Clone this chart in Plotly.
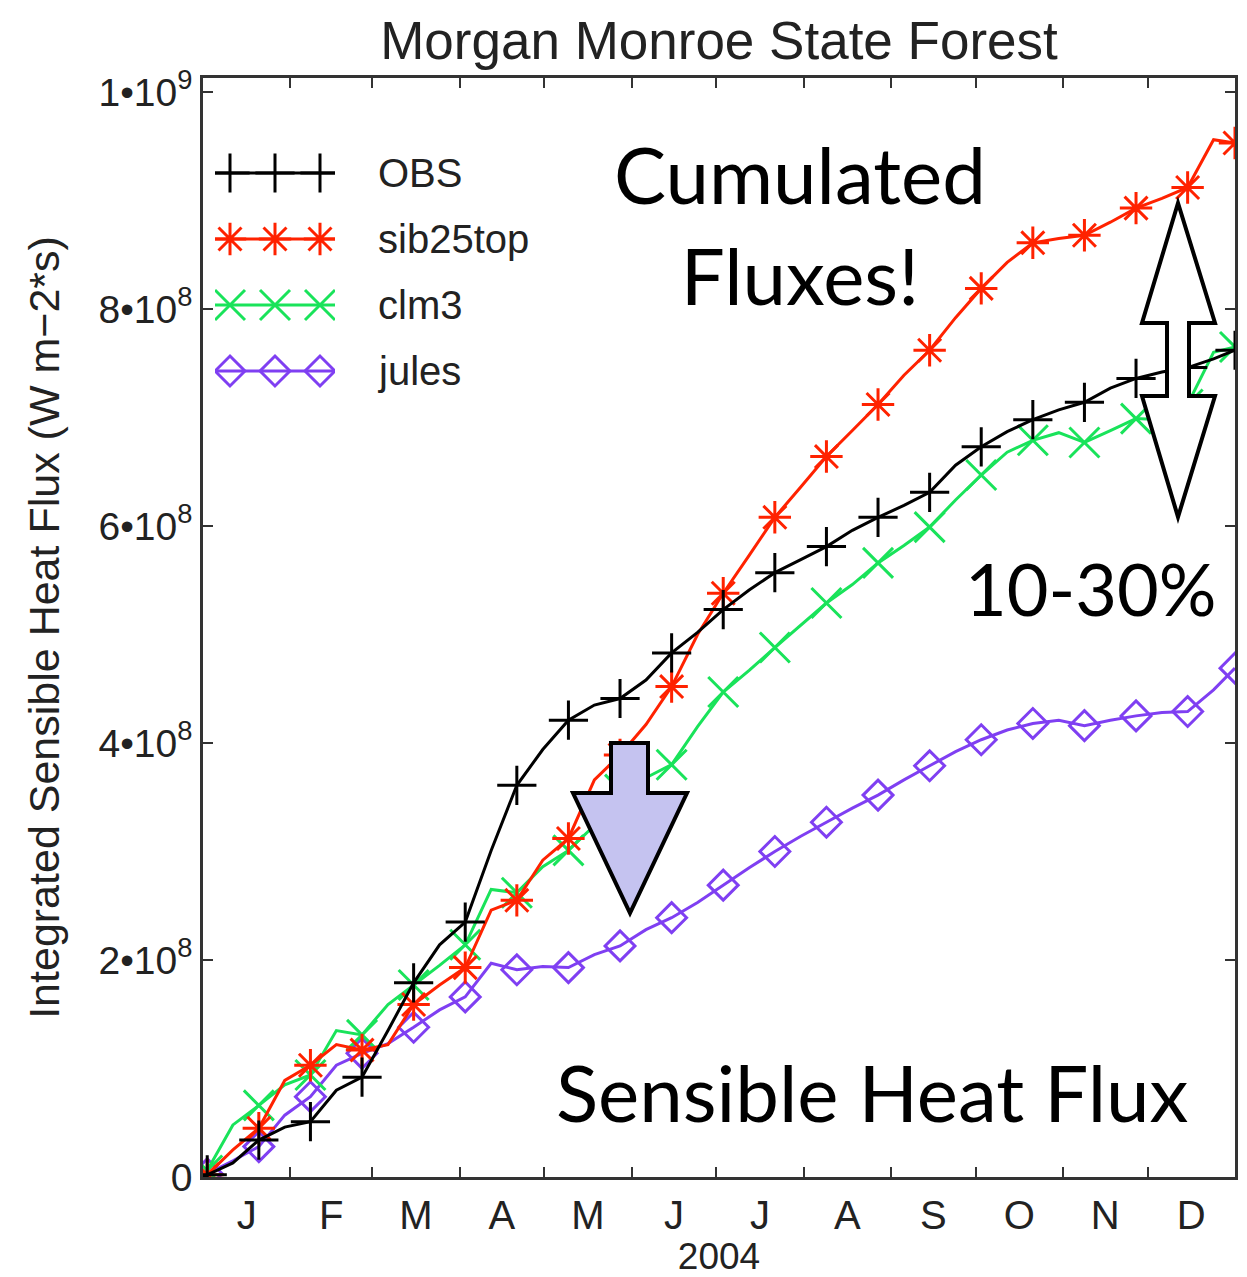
import plotly.graph_objects as go

# ---------------- data (values in units of 1e8 W m-2 s) ----------------
days = [0.0, 1.5, 10.6, 19.8, 29.0, 38.1, 47.3, 56.4, 65.6, 74.7, 83.9, 93.0, 102.2,
        111.3, 120.5, 129.6, 138.8, 147.9, 157.1, 166.2, 175.4, 184.5, 193.7, 202.8,
        212.0, 221.1, 230.3, 239.4, 248.6, 257.7, 266.9, 276.0, 285.2, 294.3, 303.5,
        312.6, 321.8, 330.9, 340.1, 349.2, 358.4, 366.0]

obs = [0.0, 0.02, 0.13, 0.34, 0.46, 0.51, 0.80, 0.92, 1.35, 1.79, 2.14, 2.35, 3.01,
       3.61, 3.94, 4.21, 4.35, 4.41, 4.58, 4.83, 5.02, 5.23, 5.41, 5.57, 5.69, 5.81,
       5.96, 6.08, 6.19, 6.31, 6.56, 6.73, 6.87, 6.98, 7.07, 7.14, 7.27, 7.36, 7.42,
       7.46, 7.54, 7.62]

sib25top = [0.0, 0.02, 0.25, 0.45, 0.89, 1.03, 1.22, 1.17, 1.22, 1.59, 1.77, 1.93, 2.46,
            2.55, 2.92, 3.12, 3.66, 3.89, 4.17, 4.52, 5.00, 5.38, 5.73, 6.08, 6.36, 6.64,
            6.88, 7.12, 7.39, 7.62, 7.92, 8.19, 8.43, 8.61, 8.65, 8.68, 8.80, 8.93, 9.02,
            9.12, 9.56, 9.53]

clm3 = [0.0, 0.06, 0.48, 0.66, 0.85, 0.94, 1.35, 1.31, 1.59, 1.77, 1.95, 2.14, 2.65,
        2.62, 2.86, 3.01, 3.24, 3.57, 3.68, 3.80, 4.15, 4.47, 4.67, 4.88, 5.09, 5.29,
        5.46, 5.66, 5.82, 5.99, 6.24, 6.47, 6.68, 6.79, 6.86, 6.77, 6.88, 6.99, 6.98,
        7.12, 7.60, 7.65]

jules = [0.0, 0.03, 0.15, 0.28, 0.57, 0.74, 1.03, 1.14, 1.23, 1.38, 1.54, 1.66, 1.97,
         1.91, 1.94, 1.93, 2.05, 2.13, 2.28, 2.39, 2.53, 2.69, 2.85, 3.00, 3.14, 3.27,
         3.40, 3.52, 3.66, 3.79, 3.92, 4.03, 4.12, 4.18, 4.21, 4.16, 4.21, 4.25, 4.28,
         4.29, 4.49, 4.69]

series_names = ["OBS", "sib25top", "clm3", "jules"]
month_starts = [0, 31, 60, 91, 121, 152, 182, 213, 244, 274, 305, 335, 366]
month_mids = [15.5, 45.5, 75.5, 106, 136.5, 167, 197.5, 228.5, 259, 289.5, 320, 350.5]
month_labels = ["J", "F", "M", "A", "M", "J", "J", "A", "S", "O", "N", "D"]
y_tickvals = [0, 2e8, 4e8, 6e8, 8e8, 1e9]
y_ticktext = ["0", "2•10<sup>8</sup>", "4•10<sup>8</sup>", "6•10<sup>8</sup>",
              "8•10<sup>8</sup>", "1•10<sup>9</sup>"]
SCALE = 1e8

# ---------------- style ----------------
W, H = 1247, 1277
L, R, T, B = 203, 1235, 78, 1177
FONT = "Liberation Sans, Arial, Helvetica, sans-serif"
BIGFONT = "Lato, Open Sans, sans-serif"
TXT = "#222222"
styles = {
    "OBS": dict(color="#000000", symbol="cross-thin-open", size=28),
    "sib25top": dict(color="#ff2200", symbol="asterisk-open", size=27),
    "clm3": dict(color="#19e35a", symbol="x-thin-open", size=30),
    "jules": dict(color="#7f3ff2", symbol="diamond-open", size=23),
}
data = {"OBS": obs, "sib25top": sib25top, "clm3": clm3, "jules": jules}


def px(x):
    return (x - L) / (R - L)


def py(y):
    return (B - y) / (B - T)


fig = go.Figure()

draw_order = ["jules", "clm3", "sib25top", "OBS"]
for name in draw_order:
    st = styles[name]
    yv = [v * SCALE for v in data[name]]
    fig.add_trace(go.Scatter(x=days, y=yv, mode="lines",
                             line=dict(color=st["color"], width=3),
                             showlegend=False, hoverinfo="skip"))
    fig.add_trace(go.Scatter(x=days[1::2], y=yv[1::2], mode="markers",
                             marker=dict(symbol=st["symbol"], size=st["size"],
                                         color=st["color"],
                                         line=dict(color=st["color"], width=3)),
                             showlegend=False, hoverinfo="skip"))

# invisible trace so the month-label axis is drawn
fig.add_trace(go.Scatter(x=[0, 366], y=[0, 0], xaxis="x2", yaxis="y", mode="lines",
                         line=dict(width=0, color="rgba(0,0,0,0)"), showlegend=False,
                         hoverinfo="skip"))

# ---------------- custom legend key (3 markers per line, like the original) ----------------
for i, name in enumerate(series_names):
    st = styles[name]
    fig.add_trace(go.Scatter(x=[0, 1], y=[i, i], mode="lines", xaxis="x3", yaxis="y3",
                             line=dict(color=st["color"], width=3),
                             showlegend=False, hoverinfo="skip"))
    fig.add_trace(go.Scatter(x=[0.125, 0.5, 0.875], y=[i, i, i], mode="markers",
                             xaxis="x3", yaxis="y3",
                             marker=dict(symbol=st["symbol"], size=st["size"],
                                         color=st["color"],
                                         line=dict(color=st["color"], width=3)),
                             showlegend=False, hoverinfo="skip"))

annotations = []
for i, name in enumerate(series_names):
    annotations.append(dict(x=px(376), y=i, xref="paper", yref="y3", text=name,
                            showarrow=False, xanchor="left", yanchor="middle",
                            font=dict(family=FONT, size=40, color=TXT)))

# big overlay texts
annotations += [
    dict(x=px(800), y=py(225), xref="paper", yref="paper", text="Cumulated<br>Fluxes!",
         showarrow=False, xanchor="center", yanchor="middle", align="center",
         font=dict(family=BIGFONT, size=78, color="#000000")),
    dict(x=px(1091), y=py(588), xref="paper", yref="paper", text="10-30%",
         showarrow=False, xanchor="center", yanchor="middle",
         font=dict(family=BIGFONT, size=72, color="#000000")),
    dict(x=px(872), y=py(1092), xref="paper", yref="paper", text="Sensible Heat Flux",
         showarrow=False, xanchor="center", yanchor="middle",
         font=dict(family=BIGFONT, size=78, color="#000000")),
]


def path_from(points):
    return "M " + " L ".join(f"{px(x):.5f},{py(y):.5f}" for x, y in points) + " Z"


down_arrow = [(611, 743), (648, 743), (648, 793), (687, 793), (630, 913), (573, 793), (611, 793)]
double_arrow = [(1178, 203), (1215, 323), (1189, 323), (1189, 396), (1215, 396), (1178, 517),
                (1142, 396), (1167, 396), (1167, 323), (1142, 323)]

shapes = [
    dict(type="path", xref="paper", yref="paper", path=path_from(down_arrow),
         fillcolor="#c5c3f0", line=dict(color="#000000", width=4), layer="above"),
    dict(type="path", xref="paper", yref="paper", path=path_from(double_arrow),
         fillcolor="#ffffff", line=dict(color="#000000", width=4), layer="above"),
]

axis_col = "#333333"
fig.update_layout(
    width=W, height=H,
    margin=dict(l=L, r=W - R, t=T, b=H - B, autoexpand=False),
    paper_bgcolor="white", plot_bgcolor="white",
    showlegend=False,
    title=dict(text="Morgan Monroe State Forest", x=(L + R) / 2 / W, xanchor="center",
               y=1 - 40 / H, yanchor="middle",
               font=dict(family=FONT, size=53, color=TXT)),
    xaxis=dict(range=[0, 366], tickmode="array", tickvals=month_starts,
               ticktext=[""] * len(month_starts), ticks="inside", ticklen=10, tickwidth=2,
               tickcolor=axis_col, showline=True, linecolor=axis_col, linewidth=2.5,
               mirror="ticks", showgrid=False, zeroline=False, fixedrange=True),
    xaxis2=dict(range=[0, 366], overlaying="x", anchor="y", side="bottom",
                tickmode="array", tickvals=month_mids, ticktext=month_labels,
                ticks="outside", ticklen=3, tickcolor="rgba(0,0,0,0)",
                showline=False, showgrid=False, zeroline=False, fixedrange=True,
                tickfont=dict(family=FONT, size=40, color=TXT),
                title=dict(text="2004", standoff=20,
                           font=dict(family=FONT, size=37, color=TXT))),
    yaxis=dict(range=[0, (B - T) / 108.5 * SCALE], tickmode="array", tickvals=y_tickvals,
               ticktext=y_ticktext, ticks="inside", ticklen=10, tickwidth=2,
               tickcolor=axis_col, showline=True, linecolor=axis_col, linewidth=2.5,
               mirror="ticks", showgrid=False, zeroline=False, fixedrange=True,
               tickfont=dict(family=FONT, size=39, color=TXT),
               title=dict(text="Integrated Sensible Heat Flux (W m\u22122*s)", standoff=26,
                          font=dict(family=FONT, size=43, color=TXT))),
    xaxis3=dict(domain=[px(215), px(335)], range=[0, 1], anchor="y3", visible=False,
                fixedrange=True),
    yaxis3=dict(domain=[py(404), py(140)], range=[3.5, -0.5], anchor="x3", visible=False,
                fixedrange=True),
    annotations=annotations,
    shapes=shapes,
)

fig.write_html("out.html")
